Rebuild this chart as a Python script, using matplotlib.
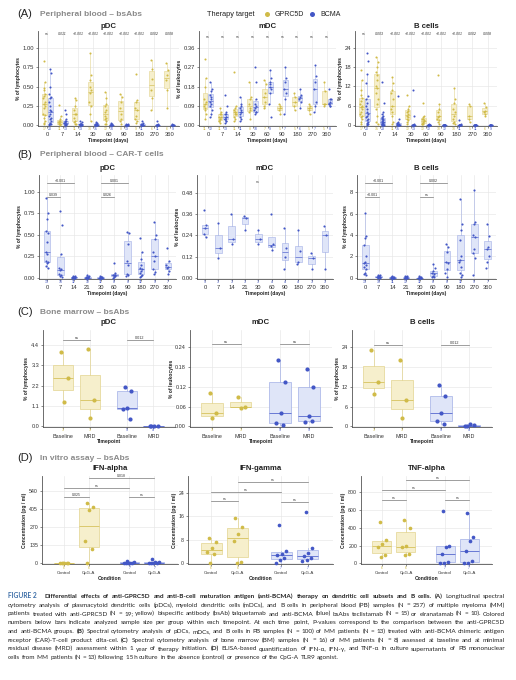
import numpy as np
import matplotlib
matplotlib.use("Agg")
import matplotlib.pyplot as plt
from matplotlib.transforms import blended_transform_factory

plt.rcParams['font.family'] = ['Liberation Sans', 'DejaVu Sans']

# ======================= DATA =======================
A_timepoints = ["0", "7", "14", "30", "60", "90", "180", "270", "360"]
B_timepoints = ["0", "7", "14", "21", "30", "60", "90", "180", "270", "360"]
C_categories = ["Baseline", "MRD", "Baseline", "MRD"]
D_categories = ["Control", "CpG-A", "Control", "CpG-A"]

# (A) peripheral blood - bsAbs, pDC (% of lymphocytes)
A_pdc_gprc5d = [
    [0.83, 0.56, 0.48, 0.45, 0.40, 0.38, 0.35, 0.30, 0.28, 0.25, 0.22, 0.15, 0.13, 0.10, 0.05, 0.03, 0.02],
    [0.26, 0.12, 0.08, 0.06, 0.05, 0.04, 0.03, 0.02, 0.01, 0.01, 0.00],
    [0.35, 0.33, 0.25, 0.20, 0.15, 0.14, 0.10, 0.06, 0.04, 0.02, 0.01],
    [0.94, 0.65, 0.58, 0.50, 0.45, 0.42, 0.30, 0.25, 0.15, 0.05],
    [0.43, 0.35, 0.28, 0.25, 0.20, 0.17, 0.12, 0.10, 0.08, 0.05, 0.02, 0.01],
    [0.41, 0.37, 0.30, 0.22, 0.15, 0.08, 0.05, 0.02],
    [0.66, 0.33, 0.30, 0.22, 0.20, 0.12, 0.08, 0.05, 0.03],
    [0.85, 0.73, 0.60, 0.45, 0.35, 0.20],
    [0.80, 0.72, 0.65, 0.58, 0.45, 0.22],
]
A_pdc_bcma = [
    [0.73, 0.68, 0.50, 0.40, 0.37, 0.35, 0.30, 0.25, 0.20, 0.19, 0.15, 0.12, 0.10, 0.08, 0.05, 0.03, 0.02, 0.01, 0.01, 0.00],
    [0.20, 0.14, 0.08, 0.06, 0.05, 0.04, 0.03, 0.02, 0.01, 0.01, 0.00, 0.00, 0.00],
    [0.06, 0.04, 0.02, 0.02, 0.01, 0.01, 0.01, 0.00, 0.00, 0.00, 0.00, 0.00, 0.00],
    [0.04, 0.03, 0.02, 0.01, 0.01, 0.01, 0.00, 0.00, 0.00, 0.00, 0.00, 0.00, 0.00, 0.00, 0.00],
    [0.03, 0.01, 0.01, 0.00, 0.00, 0.00, 0.00, 0.00, 0.00, 0.00],
    [0.02, 0.01, 0.00, 0.00, 0.00, 0.00, 0.00, 0.00, 0.00, 0.00, 0.00, 0.00, 0.00],
    [0.06, 0.03, 0.01, 0.01, 0.00, 0.00, 0.00, 0.00, 0.00, 0.00, 0.00],
    [0.05, 0.01, 0.00, 0.00, 0.00, 0.00, 0.00, 0.00, 0.00, 0.00, 0.00],
    [0.01, 0.00, 0.00, 0.00, 0.00, 0.00, 0.00, 0.00, 0.00],
]
A_pdc_pvals = ["ns", "0.011", "<0.001", "<0.001", "<0.001", "<0.001", "<0.001", "0.002", "0.008"]

# (A) mDC (% of leukocytes)
A_mdc_gprc5d = [
    [0.31, 0.22, 0.18, 0.12, 0.11, 0.10, 0.09, 0.08, 0.07, 0.05, 0.03],
    [0.08, 0.06, 0.05, 0.04, 0.04, 0.03, 0.02, 0.01, 0.02, 0.05, 0.03],
    [0.25, 0.09, 0.08, 0.07, 0.06, 0.05, 0.04, 0.03, 0.02, 0.05, 0.06],
    [0.20, 0.13, 0.12, 0.10, 0.08, 0.07, 0.06, 0.03],
    [0.21, 0.19, 0.15, 0.13, 0.11, 0.09, 0.08],
    [0.10, 0.09, 0.08, 0.07, 0.05],
    [0.15, 0.13, 0.11, 0.09, 0.07],
    [0.10, 0.09, 0.08, 0.07, 0.05],
    [0.20, 0.16, 0.10, 0.09, 0.10],
]
A_mdc_bcma = [
    [0.20, 0.17, 0.16, 0.14, 0.13, 0.12, 0.11, 0.10, 0.09, 0.07, 0.05, 0.04],
    [0.14, 0.09, 0.06, 0.05, 0.04, 0.03, 0.03, 0.02, 0.01, 0.02, 0.04, 0.03, 0.05],
    [0.13, 0.10, 0.09, 0.08, 0.06, 0.05, 0.04, 0.03, 0.02, 0.07, 0.06],
    [0.27, 0.20, 0.12, 0.10, 0.09, 0.08, 0.07, 0.06, 0.05, 0.06],
    [0.26, 0.22, 0.20, 0.18, 0.17, 0.15, 0.10, 0.04, 0.19],
    [0.27, 0.22, 0.20, 0.17, 0.15, 0.12, 0.05],
    [0.17, 0.14, 0.13, 0.12, 0.11, 0.08],
    [0.28, 0.23, 0.20, 0.17, 0.11, 0.09, 0.06],
    [0.17, 0.12, 0.11, 0.10, 0.09, 0.09, 0.10, 0.12],
]
A_mdc_pvals = ["ns", "ns", "ns", "ns", "ns", "ns", "ns", "ns", "ns"]

# (A) B cells (% of lymphocytes)
A_bcell_gprc5d = [
    [17.0, 14.0, 11.0, 9.5, 8.5, 7.5, 6.5, 6.0, 5.5, 5.0, 4.0, 3.5, 3.0, 2.5, 2.0, 1.0, 0.5],
    [21.0, 19.5, 18.0, 16.5, 15.5, 14.0, 12.0, 11.5, 10.0, 8.0, 6.5, 5.0, 3.0, 1.0, 0.5],
    [15.0, 13.0, 11.0, 10.0, 8.0, 6.0, 5.0, 4.0, 3.0, 1.0, 0.5],
    [9.5, 6.0, 5.0, 4.0, 3.5, 3.0, 2.0, 1.5, 0.5, 4.5, 2.5, 1.0],
    [7.0, 3.0, 2.0, 1.8, 1.5, 1.0, 0.5, 0.3, 2.5, 1.2, 0.8, 0.4],
    [15.5, 6.5, 5.0, 4.0, 3.0, 2.5, 2.0, 1.5, 1.0, 0.5],
    [11.5, 8.0, 7.0, 5.0, 4.0, 3.0, 2.0, 1.0, 0.8, 0.5],
    [6.5, 6.0, 3.0, 2.0, 1.0],
    [7.0, 5.5, 4.5, 4.0, 3.5, 3.0],
]
A_bcell_bcma = [
    [22.5, 20.0, 16.0, 13.0, 9.0, 7.0, 6.0, 5.0, 4.0, 3.5, 3.0, 2.5, 2.0, 1.5, 1.0, 0.8, 0.5, 0.3, 0.2, 8.0],
    [13.5, 7.0, 4.0, 3.5, 3.0, 2.5, 2.0, 1.5, 1.2, 1.0, 0.8, 0.5, 0.4, 0.3, 0.2, 0.1, 0.1, 0.0, 0.0, 0.6, 0.9, 2.2, 1.8],
    [9.0, 2.0, 1.0, 0.6, 0.5, 0.4, 0.3, 0.2, 0.1, 0.1, 0.0, 0.0, 0.0, 0.0, 0.0],
    [11.0, 3.0, 0.5, 0.2, 0.1, 0.1, 0.0, 0.0, 0.0, 0.0, 0.0, 0.0, 0.0],
    [0.3, 0.1, 0.0, 0.0, 0.0, 0.0, 0.0, 0.0, 0.0, 0.0, 0.0, 0.0],
    [0.1, 0.0, 0.0, 0.0, 0.0, 0.0, 0.0, 0.0, 0.0, 0.0, 0.0, 0.0],
    [1.5, 0.3, 0.1, 0.0, 0.0, 0.0, 0.0, 0.0, 0.0, 0.0, 0.0],
    [0.2, 0.0, 0.0, 0.0, 0.0, 0.0, 0.0, 0.0, 0.0, 0.0, 0.0],
    [0.1, 0.0, 0.0, 0.0, 0.0, 0.0, 0.0, 0.0, 0.0],
]
A_bcell_pvals = ["ns", "0.003", "<0.001", "<0.001", "<0.001", "<0.001", "<0.001", "0.002", "0.008"]

# (B) peripheral blood - CAR-T cells (BCMA only)
B_pdc = [
    [0.93, 0.75, 0.68, 0.55, 0.52, 0.42, 0.30, 0.28, 0.20, 0.18, 0.17, 0.14, 0.12],
    [0.78, 0.62, 0.28, 0.12, 0.10, 0.09, 0.05, 0.03, 0.02, 0.01],
    [0.02, 0.02, 0.01, 0.01, 0.01, 0.00, 0.00, 0.00, 0.01, 0.00, 0.00],
    [0.03, 0.02, 0.01, 0.01, 0.01, 0.00, 0.00, 0.00, 0.00, 0.01, 0.00, 0.00],
    [0.02, 0.01, 0.01, 0.00, 0.00, 0.00, 0.00, 0.01, 0.00, 0.00, 0.00],
    [0.17, 0.06, 0.04, 0.03, 0.02, 0.01, 0.00, 0.03],
    [0.53, 0.52, 0.40, 0.20, 0.15, 0.05, 0.02, 0.03],
    [0.46, 0.30, 0.22, 0.12, 0.10, 0.08, 0.06, 0.02, 0.01, 0.04, 0.15],
    [0.65, 0.50, 0.45, 0.30, 0.26, 0.20, 0.10, 0.07, 0.05],
    [0.35, 0.20, 0.13, 0.12, 0.08, 0.05, 0.15],
]
B_mdc = [
    [0.38, 0.30, 0.28, 0.25, 0.23],
    [0.31, 0.17, 0.11],
    [0.36, 0.22, 0.19],
    [0.35, 0.34, 0.27],
    [0.27, 0.22, 0.19],
    [0.36, 0.19, 0.16, 0.18],
    [0.28, 0.17, 0.12, 0.05],
    [0.27, 0.15, 0.09, 0.08],
    [0.14, 0.11, 0.05],
    [0.29, 0.24, 0.05],
]
B_bcell = [
    [6.1, 3.9, 3.7, 3.1, 2.0, 1.5, 1.4, 1.2, 1.0, 0.8, 0.5, 0.4, 0.3],
    [0.30, 0.25, 0.20, 0.15, 0.10, 0.10, 0.05, 0.05, 0.02, 0.00],
    [0.15, 0.10, 0.05, 0.05, 0.02, 0.02, 0.01, 0.00, 0.00, 0.00, 0.00],
    [0.20, 0.15, 0.10, 0.10, 0.05, 0.05, 0.02, 0.00, 0.00, 0.00, 0.00, 0.00],
    [0.15, 0.10, 0.05, 0.02, 0.02, 0.01, 0.00, 0.00, 0.00, 0.00, 0.00],
    [1.3, 0.9, 0.6, 0.5, 0.4, 0.2, 0.1, 0.05],
    [3.2, 2.9, 2.4, 1.5, 1.4, 0.8, 0.5, 0.1],
    [7.4, 5.0, 4.5, 3.5, 2.0, 1.7, 1.5, 1.0, 0.5, 0.3, 0.1],
    [8.2, 5.2, 5.0, 4.0, 3.8, 2.7, 2.3, 1.9, 0.3],
    [5.0, 3.9, 2.9, 2.7, 2.0, 1.5, 0.9],
]
B_pdc_comparisons = [(0, 2, "<0.001"), (0, 1, "0.039"), (4, 6, "0.001"), (4, 5, "0.026")]
B_bcell_comparisons = [(0, 2, "<0.001"), (0, 1, "<0.001"), (4, 6, "0.002"), (4, 5, "ns")]
B_mdc_pval = "ns"

# (C) bone marrow - bsAbs: [Baseline, MRD]
C_pdc_gprc5d = [[4.0, 2.6, 1.3], [4.2, 1.4, 0.45]]
C_pdc_bcma = [[2.15, 1.9, 1.0, 0.95, 0.4], [0.02, 0.01, 0.0, 0.0]]
C_mdc_gprc5d = [[0.10, 0.04, 0.025], [0.088, 0.06, 0.055]]
C_mdc_bcma = [[0.20, 0.135, 0.04, 0.01, 0.003], [0.175, 0.12, 0.03, 0.012, 0.015]]
C_bcell_gprc5d = [[23.0, 13.5, 9.8], [20.0, 8.0, 2.5]]
C_bcell_bcma = [[12.5, 9.2, 4.0, 1.5, 0.8], [0.1, 0.3, 0.6, 0.0]]
C_pdc_pvals = ["ns", "0.012"]
C_mdc_pvals = ["ns", "ns"]
C_bcell_pvals = ["ns", "0.012"]

# (D) in vitro assay - bsAbs: [Control, CpG-A], pg / ml
D_ifna_gprc5d = [[0, 0, 0, 0, 0, 0], [450, 420, 400, 165, 105, 0]]
D_ifna_bcma = [[15, 10, 5, 3, 2, 0, 0], [30, 12, 8, 5, 3, 0, 0]]
D_ifng_gprc5d = [[8.5, 7.3, 5.2, 3.8, 3.2, 0.2], [15.5, 12.5, 10.0, 7.5, 0.5, 0.0]]
D_ifng_bcma = [[13.2, 4.2, 3.3, 3.0, 2.0, 1.0, 0.0], [17.5, 5.4, 3.5, 2.5, 2.0, 1.2, 0.8]]
D_tnfa_gprc5d = [[460, 260, 220, 180, 100, 70], [490, 400, 200, 180, 110, 100]]
D_tnfa_bcma = [[590, 200, 190, 110, 15, 8, 0], [565, 300, 250, 140, 30, 5, 0]]
D_comparisons = [(0, 1), (0, 2), (1, 3), (2, 3)]
D_ifna_pvals = ["0.025", "ns", "0.018", "ns"]
D_ifng_pvals = ["ns", "ns", "ns", "ns"]
D_tnfa_pvals = ["ns", "ns", "ns", "ns"]

# tick labels
T_pdc = ["0.00", "0.25", "0.50", "0.75", "1.00"]
T_A_mdc = ["0.00", "0.09", "0.18", "0.27", "0.36"]
T_A_bcell = ["0", "6", "12", "18", "24"]
T_B_mdc = ["0.00", "0.12", "0.24", "0.36", "0.48"]
T_B_bcell = ["0", "2", "4", "6", "8"]
T_C_pdc = ["0.0", "1.1", "2.2", "3.3", "4.4"]
T_C_mdc = ["0.00", "0.06", "0.12", "0.18", "0.24"]
T_C_bcell = ["0", "6", "12", "18", "24"]
T_D_ifna = ["0", "135", "270", "405", "540"]
T_D_ifng = ["0", "8", "16", "24"]
T_D_tnfa = ["0", "200", "400", "600", "800"]

# ======================= STYLE =======================
W, H = 516, 680
fig = plt.figure(figsize=(W / 100, H / 100), dpi=100)
fig.patch.set_facecolor('white')

YEL, YEL_FILL, YEL_EDGE, YEL_MED = '#D0BB48', '#F6EFCC', '#E3D48F', '#D6C25E'
BLU, BLU_FILL, BLU_EDGE, BLU_MED = '#4357C6', '#DFE5F8', '#A3B0E6', '#5668CF'
TXT = '#222222'


def add_ax(x0, y0, x1, y1):
    return fig.add_axes([x0 / W, 1 - y1 / H, (x1 - x0) / W, (y1 - y0) / H])


def style_ax(ax, ytick_labels, ylim, ylabel, xlabel, fs=4.2):
    vals = [float(t) for t in ytick_labels]
    ax.set_ylim(*ylim)
    ax.set_yticks(vals)
    ax.set_yticklabels(ytick_labels)
    for s in ['top', 'right']:
        ax.spines[s].set_visible(False)
    for s in ['left', 'bottom']:
        ax.spines[s].set_color('#555555')
        ax.spines[s].set_linewidth(0.6)
    ax.grid(True, color='#e6e6e6', lw=0.45)
    ax.set_axisbelow(True)
    ax.tick_params(labelsize=fs, length=1.2, width=0.4, pad=1.6, colors='#333333')
    ax.set_ylabel(ylabel, fontsize=3.6, fontweight='bold', labelpad=1.2, color=TXT)
    ax.set_xlabel(xlabel, fontsize=3.6, fontweight='bold', labelpad=0.6, color=TXT)


def draw_group(ax, vals, pos, width, col, fill, edge, med, s, jw, lw=0.5):
    v = np.asarray(vals, float)
    ax.boxplot([v], positions=[pos], widths=width, patch_artist=True, showfliers=False,
               showcaps=False, whis=1.5, manage_ticks=False,
               boxprops=dict(facecolor=fill, edgecolor=edge, linewidth=lw),
               medianprops=dict(color=med, linewidth=lw + 0.1),
               whiskerprops=dict(color=edge, linewidth=lw))
    n = len(v)
    off = (((np.arange(n) * 0.618034 + 0.3) % 1.0) - 0.5) * jw
    ax.scatter(pos + off, v, s=s, color=col, lw=0, zorder=3, clip_on=False)


def n_label(ax, x, n, col, yoff=-0.035, fs=2.6):
    tr = blended_transform_factory(ax.transData, ax.transAxes)
    ax.text(x, yoff, str(n), transform=tr, ha='center', va='center', fontsize=fs, color=col)


def bracket(ax, x1, x2, y, label, fs=2.7):
    ax.plot([x1, x2], [y, y], color='#777777', lw=0.5, clip_on=False, zorder=4)
    ax.text((x1 + x2) / 2, y, label, ha='center', va='bottom', fontsize=fs, color='#333333')


ov = fig.add_axes([0, 0, 1, 1])
ov.set_xlim(0, W)
ov.set_ylim(H, 0)
ov.axis('off')


def title(x0, x1, y, txt):
    ov.text((x0 + x1) / 2, y, txt, ha='center', va='center', fontsize=5.6, fontweight='bold', color=TXT)


def header(y, letter, txt):
    ov.text(17, y, letter, ha='left', va='center', fontsize=8, color=TXT)
    ov.text(40, y, txt, ha='left', va='center', fontsize=6, fontweight='bold', color='#8a8a8a')


# ======================= (A) =======================
header(14, "(A)", "Peripheral blood \u2013 bsAbs")
ov.text(207, 14, "Therapy target", ha='left', va='center', fontsize=5.3, color=TXT)
ov.scatter([267], [14], s=13, color=YEL, lw=0)
ov.text(275, 14, "GPRC5D", ha='left', va='center', fontsize=5.0, color=TXT)
ov.scatter([312], [14], s=13, color=BLU, lw=0)
ov.text(320, 14, "BCMA", ha='left', va='center', fontsize=5.0, color=TXT)

A_specs = [
    ((38, 179), "pDC", A_pdc_gprc5d, A_pdc_bcma, A_pdc_pvals, T_pdc, (-0.01, 1.22), 1.185, "% of lymphocytes"),
    ((199, 336), "mDC", A_mdc_gprc5d, A_mdc_bcma, A_mdc_pvals, T_A_mdc, (-0.004, 0.44), 0.41, "% of leukocytes"),
    ((355, 497), "B cells", A_bcell_gprc5d, A_bcell_bcma, A_bcell_pvals, T_A_bcell, (-0.25, 29.2), 28.2, "% of lymphocytes"),
]
for (x0, x1), ttl, gd, bd, pv, tl, yl, pvy, ylab in A_specs:
    ax = add_ax(x0, 31, x1, 126)
    style_ax(ax, tl, yl, ylab, "Timepoint (days)")
    for i in range(len(A_timepoints)):
        draw_group(ax, gd[i], i + 1 - 0.19, 0.32, YEL, YEL_FILL, YEL_EDGE, YEL_MED, 2.2, 0.14, lw=0.4)
        draw_group(ax, bd[i], i + 1 + 0.19, 0.32, BLU, BLU_FILL, BLU_EDGE, BLU_MED, 2.2, 0.14, lw=0.4)
        ax.text(i + 1, pvy, pv[i], ha='center', va='center', fontsize=2.5, style='italic', color='#333333')
        n_label(ax, i + 1 - 0.19, len(gd[i]), YEL, yoff=-0.03)
        n_label(ax, i + 1 + 0.19, len(bd[i]), BLU, yoff=-0.03)
    ax.set_xlim(0.4, len(A_timepoints) + 0.6)
    ax.set_xticks(range(1, len(A_timepoints) + 1))
    ax.set_xticklabels(A_timepoints)
    ax.tick_params(axis='x', pad=3.2)
    title(x0, x1, 26, ttl)

# ======================= (B) =======================
header(155, "(B)", "Peripheral blood \u2013 CAR-T cells")
B_specs = [
    ((39, 176), "pDC", B_pdc, T_pdc, (-0.012, 1.195), "% of lymphocytes", B_pdc_comparisons, (1.10, 0.94)),
    ((197, 333), "mDC", B_mdc, T_B_mdc, (-0.006, 0.58), "% of leukocytes", None, None),
    ((357, 496), "B cells", B_bcell, T_B_bcell, (-0.1, 9.6), "% of lymphocytes", B_bcell_comparisons, (8.83, 7.54)),
]
for (x0, x1), ttl, dd, tl, yl, ylab, comps, hts in B_specs:
    ax = add_ax(x0, 175, x1, 279)
    style_ax(ax, tl, yl, ylab, "Timepoint (days)")
    for i in range(len(B_timepoints)):
        draw_group(ax, dd[i], i + 1, 0.5, BLU, BLU_FILL, BLU_EDGE, BLU_MED, 2.4, 0.22, lw=0.4)
        n_label(ax, i + 1, len(dd[i]), BLU, yoff=-0.03)
    if comps:
        for k, (a, b, lab) in enumerate(comps):
            bracket(ax, a + 1, b + 1, hts[k % 2], lab, fs=2.6)
    else:
        ax.text(5, 0.54, B_mdc_pval, ha='center', va='center', fontsize=2.6, style='italic', color='#333333')
    ax.set_xlim(0.4, len(B_timepoints) + 0.6)
    ax.set_xticks(range(1, len(B_timepoints) + 1))
    ax.set_xticklabels(B_timepoints)
    ax.tick_params(axis='x', pad=3.2)
    title(x0, x1, 168, ttl)

# ======================= (C) =======================
header(312, "(C)", "Bone marrow \u2013 bsAbs")
C_pos = [0.79, 1.21, 1.79, 2.21]
C_specs = [
    ((43, 175), "pDC", C_pdc_gprc5d, C_pdc_bcma, C_pdc_pvals, T_C_pdc, (-0.03, 5.2), 4.67, "% of lymphocytes"),
    ((190, 332), "mDC", C_mdc_gprc5d, C_mdc_bcma, C_mdc_pvals, T_C_mdc, (-0.002, 0.292), 0.249, "% of leukocytes"),
    ((352, 492), "B cells", C_bcell_gprc5d, C_bcell_bcma, C_bcell_pvals, T_C_bcell, (-0.2, 29.2), 24.6, "% of lymphocytes"),
]
for (x0, x1), ttl, gd, bd, pv, tl, yl, by, ylab in C_specs:
    ax = add_ax(x0, 330, x1, 427)
    style_ax(ax, tl, yl, ylab, "Timepoint", fs=4.0)
    groups = [(gd[0], YEL), (gd[1], YEL), (bd[0], BLU), (bd[1], BLU)]
    for p, (vals, col) in zip(C_pos, groups):
        if col == YEL:
            draw_group(ax, vals, p, 0.32, YEL, YEL_FILL, YEL_EDGE, YEL_MED, 9, 0.16, lw=0.5)
        else:
            draw_group(ax, vals, p, 0.32, BLU, BLU_FILL, BLU_EDGE, BLU_MED, 9, 0.16, lw=0.5)
        n_label(ax, p, len(vals), col, yoff=-0.035)
    bracket(ax, C_pos[0], C_pos[1], by, pv[0])
    bracket(ax, C_pos[2], C_pos[3], by, pv[1])
    ax.set_xlim(0.47, 2.55)
    ax.set_xticks(C_pos)
    ax.set_xticklabels(C_categories)
    ax.tick_params(axis='x', pad=3.6, labelsize=3.9)
    title(x0, x1, 322, ttl)

# ======================= (D) =======================
header(458, "(D)", "In vitro assay \u2013 bsAbs")
D_pos = [0.81, 1.19, 1.81, 2.19]
D_specs = [
    ((42, 178), "IFN-alpha", D_ifna_gprc5d, D_ifna_bcma, D_ifna_pvals, T_D_ifna, (-4, 651), (496, 562, 636, 496)),
    ((188, 333), "IFN-gamma", D_ifng_gprc5d, D_ifng_bcma, D_ifng_pvals, T_D_ifng, (-0.2, 29.7), (21.3, 24.3, 27.7, 21.0)),
    ((361, 492), "TNF-alpha", D_tnfa_gprc5d, D_tnfa_bcma, D_tnfa_pvals, T_D_tnfa, (-6, 980), (710, 822, 935, 710)),
]
for (x0, x1), ttl, gd, bd, pv, tl, yl, hts in D_specs:
    ax = add_ax(x0, 476, x1, 564)
    style_ax(ax, tl, yl, "Concentration (pg / ml)", "Condition", fs=3.8)
    groups = [(gd[0], YEL), (gd[1], YEL), (bd[0], BLU), (bd[1], BLU)]
    for p, (vals, col) in zip(D_pos, groups):
        if col == YEL:
            draw_group(ax, vals, p, 0.3, YEL, YEL_FILL, YEL_EDGE, YEL_MED, 7, 0.16, lw=0.5)
        else:
            draw_group(ax, vals, p, 0.3, BLU, BLU_FILL, BLU_EDGE, BLU_MED, 7, 0.16, lw=0.5)
        n_label(ax, p, len(vals), col, yoff=-0.04, fs=2.4)
    for (a, b), lab, h in zip(D_comparisons, pv, hts):
        bracket(ax, D_pos[a], D_pos[b], h, lab, fs=2.5)
    ax.set_xlim(0.48, 2.55)
    ax.set_xticks(D_pos)
    ax.set_xticklabels(D_categories)
    ax.tick_params(axis='x', pad=3.6, labelsize=3.2)
    title(x0, x1, 468, ttl)

# ======================= caption =======================
CAP_BLUE = '#3A6CA6'
caption_lines = [
    [("FIGURE 2", True, CAP_BLUE, False),
     ("Differential effects of anti-GPRC5D and anti-B-cell maturation antigen (anti-BCMA) therapy on dendritic cell subsets and B cells.", True, TXT, True),
     ("(A)", True, TXT, True), ("Longitudinal spectral", False, TXT, True)],
    [("cytometry analysis of plasmacytoid dendritic cells (pDCs), myeloid dendritic cells (mDCs), and B cells in peripheral blood (PB) samples (N = 257) of multiple myeloma (MM)", False, TXT, True)],
    [("patients treated with anti-GPRC5D (N = 19; yellow) bispecific antibody (bsAb) talquetamab and anti-BCMA (blue) bsAbs teclistamab (N = 15) or elranatamab (N = 10). Colored", False, TXT, True)],
    [("numbers below bars indicate analyzed sample size per group within each timepoint. At each time point, P-values correspond to the comparison between the anti-GPRC5D", False, TXT, True)],
    [("and anti-BCMA groups.", False, TXT, True), ("(B)", True, TXT, True),
     ("Spectral cytometry analysis of pDCs, mDCs, and B cells in PB samples (N = 100) of MM patients (N = 13) treated with anti-BCMA chimeric antigen", False, TXT, True)],
    [("receptor (CAR)-T-cell product cilta-cel.", False, TXT, True), ("(C)", True, TXT, True),
     ("Spectral cytometry analysis of bone marrow (BM) samples (N = 16) of MM patients (N = 8) assessed at baseline and at minimal", False, TXT, True)],
    [("residual disease (MRD) assessment within 1 year of therapy initiation.", False, TXT, True), ("(D)", True, TXT, True),
     ("ELISA-based quantification of IFN-\u03b1, IFN-\u03b3, and TNF-\u03b1 in culture supernatants of PB mononuclear", False, TXT, True)],
    [("cells from MM patients (N = 13) following 15\u2009h culture in the absence (control) or presence of the CpG-A TLR9 agonist.", False, TXT, True)],
]
CAP_X0, CAP_X1 = 8, 505
cap_fs = 4.6
renderer = fig.canvas.get_renderer()
y = 598
for li, segs in enumerate(caption_lines):
    words = []
    for txt, bold, col, split in segs:
        parts = txt.split(' ') if split else [txt]
        for w in parts:
            words.append((w, bold, col, not split))
    objs, widths = [], []
    for w, bold, col, special in words:
        t = ov.text(0, y, w, fontsize=cap_fs + (0.2 if special else 0), fontweight='bold' if bold else 'normal',
                    color=col, family=['Lato', 'DejaVu Sans'], va='baseline', ha='left')
        objs.append(t)
        widths.append(t.get_window_extent(renderer).width)
    total = sum(widths)
    extra = 5 if words[0][3] else 0
    natural = cap_fs * 1.389 * 0.24
    if li < len(caption_lines) - 1:
        gap = (CAP_X1 - CAP_X0 - total - extra) / (len(words) - 1)
        gap = max(gap, 0.6 * natural)
    else:
        gap = natural
    x = CAP_X0
    for k, (t, w) in enumerate(zip(objs, widths)):
        t.set_x(x)
        x += w + gap + (extra if (k == 0 and words[0][3]) else 0)
    y += 8.75

fig.savefig("out.png", dpi=100, facecolor='white')
